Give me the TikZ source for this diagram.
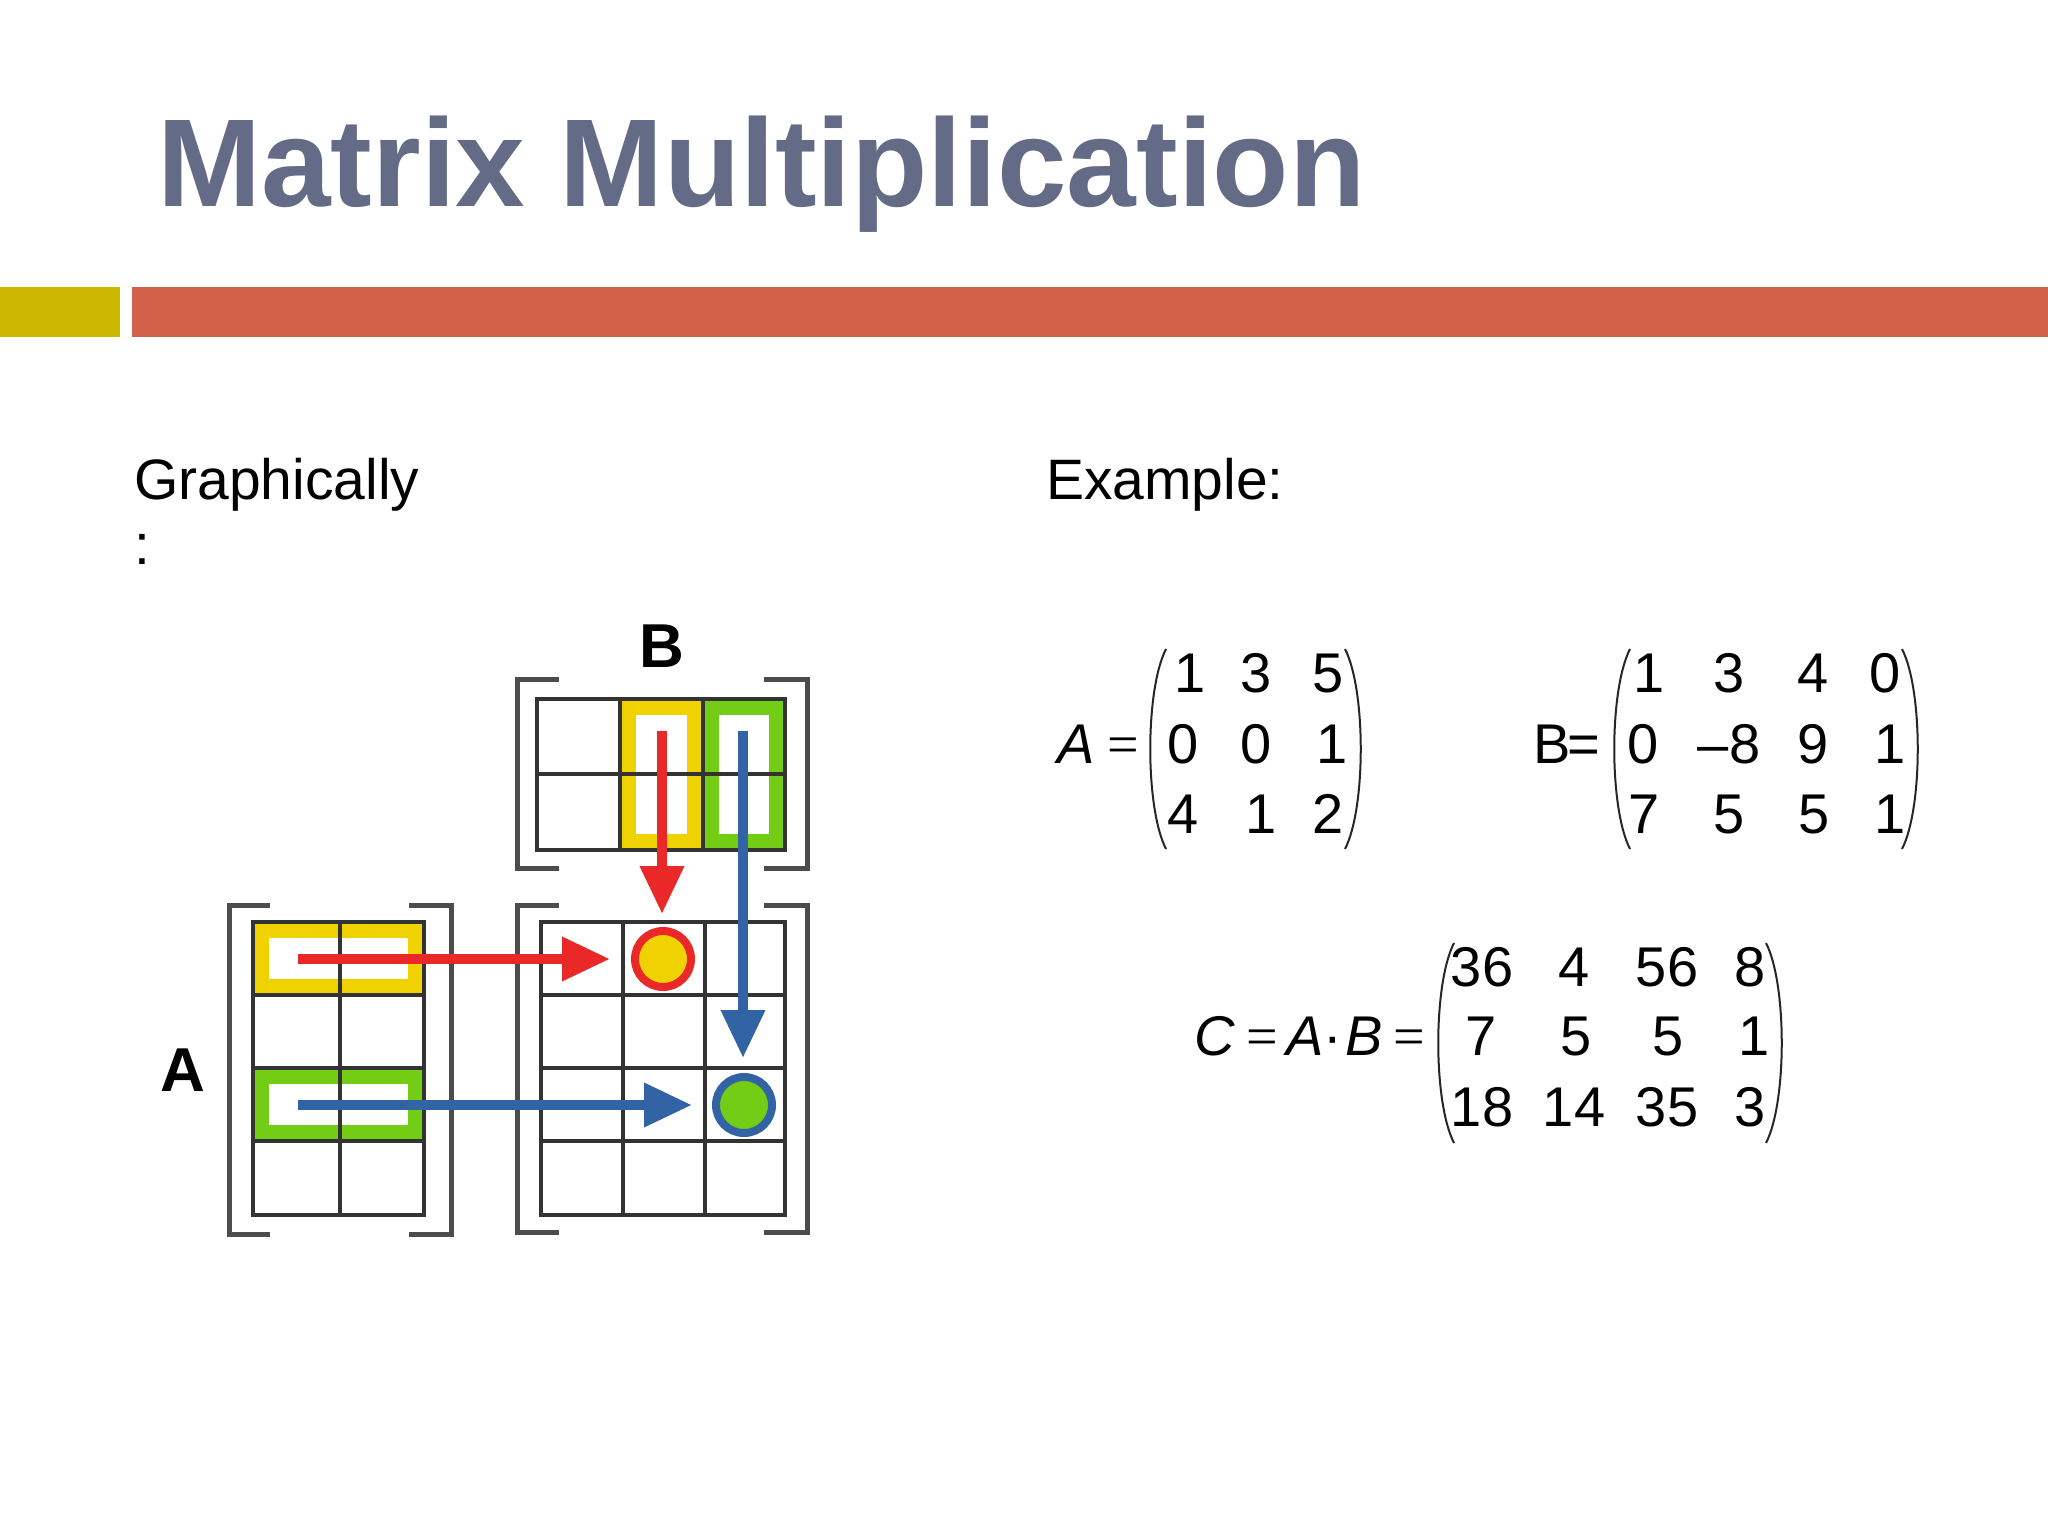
\documentclass[tikz,border=0pt]{standalone}
\usepackage{fontspec}
\setmainfont{Liberation Sans}
\newfontfamily\eqfont{Liberation Serif}
\usetikzlibrary{arrows.meta}
\definecolor{titlecol}{RGB}{99,107,135}
\definecolor{oliveblock}{RGB}{205,184,0}
\definecolor{barred}{RGB}{210,97,74}
\definecolor{hlyellow}{RGB}{240,210,0}
\definecolor{hlgreen}{RGB}{115,205,20}
\definecolor{arrred}{RGB}{235,40,40}
\definecolor{arrblue}{RGB}{50,100,165}
\tikzset{
  gridline/.style={line width=3.5pt, draw=black!80},
  bracketline/.style={line width=5pt, draw=black!70},
  hlyel/.style={draw=hlyellow, line width=16pt, fill=white},
  hlgrn/.style={draw=hlgreen, line width=16pt, fill=white},
  bigarrow/.style={line width=10pt, -{Triangle[width=42pt,length=48pt]}},
  entry/.style={anchor=base, inner sep=0pt, font=\fontsize{56}{67}\selectfont},
  eqsym/.style={anchor=base, inner sep=0pt, font=\eqfont\fontsize{56}{67}\selectfont},
  itsym/.style={anchor=base, inner sep=0pt, font=\itshape\fontsize{56}{67}\selectfont},
  parenline/.style={line width=2pt, draw=black!85},
  dotnode/.style={circle, line width=8pt, minimum size=56pt, inner sep=0pt},
  labeltext/.style={anchor=base west, inner sep=0pt, font=\fontsize{57}{66}\selectfont},
}
\begin{document}
\begin{tikzpicture}[x=1pt,y=-1pt]
\useasboundingbox (0,0) rectangle (2048,1536);
\fill[white] (0,0) rectangle (2048,1536);

% title and bars
\node[anchor=base west, inner sep=0pt, text=titlecol,
      font=\bfseries\fontsize{125}{150}\selectfont] (title) at (157,206) {Matrix Multiplication};
\fill[oliveblock] (0,287) rectangle (120,337);
\fill[barred] (132,287) rectangle (2048,337);

% section labels
\node[labeltext] (graph1) at (134,499) {Graphically};
\node[labeltext] (graph2) at (134,564) {:};
\node[labeltext] (example) at (1046,499) {Example:};

% ---------- graphic ----------
% highlights
\draw[hlyel] (620+8,699+8) rectangle (703-8,850-8);
\draw[hlgrn] (703+8,699+8) rectangle (785-8,850-8);
\draw[hlyel] (253+8,922+8) rectangle (424-8,995-8);
\draw[hlgrn] (253+8,1068+8) rectangle (424-8,1141-8);

% B grid (3 x 2)
\draw[gridline] (537,699) rectangle (785,850);
\draw[gridline] (620,699) -- (620,850) (703,699) -- (703,850) (537,774) -- (785,774);
% A grid (2 x 4)
\draw[gridline] (253,922) rectangle (424,1215);
\draw[gridline] (340,922) -- (340,1215) (253,995) -- (424,995) (253,1068) -- (424,1068) (253,1141) -- (424,1141);
% C grid (3 x 4)
\draw[gridline] (541,922) rectangle (785,1215);
\draw[gridline] (623,922) -- (623,1215) (705,922) -- (705,1215)
  (541,995) -- (785,995) (541,1068) -- (785,1068) (541,1141) -- (785,1141);

% brackets
\draw[bracketline] (559,679) -- (517,679) -- (517,868) -- (559,868);
\draw[bracketline] (764,679) -- (807,679) -- (807,868) -- (764,868);
\draw[bracketline] (270,905) -- (229,905) -- (229,1234) -- (270,1234);
\draw[bracketline] (409,905) -- (451,905) -- (451,1234) -- (409,1234);
\draw[bracketline] (559,905) -- (517,905) -- (517,1232) -- (559,1232);
\draw[bracketline] (764,905) -- (807,905) -- (807,1232) -- (764,1232);

% labels
\node[anchor=base, inner sep=0pt, font=\bfseries\fontsize{62}{70}\selectfont] (labB) at (662,667) {B};
\node[anchor=base, inner sep=0pt, font=\bfseries\fontsize{62}{70}\selectfont] (labA) at (183,1091) {A};

% result dots
\node[dotnode, draw=arrred, fill=hlyellow] (dotred) at (663,959) {};
\node[dotnode, draw=arrblue, fill=hlgreen] (dotblue) at (744,1105) {};

% arrow endpoints
\coordinate (rA) at (298,959);
\coordinate (rAend) at (610,959);
\coordinate (bA) at (298,1105);
\coordinate (bAend) at (692,1105);
\coordinate (rB) at (662,731);
\coordinate (rBend) at (662,914);
\coordinate (bB) at (743,731);
\coordinate (bBend) at (743,1058);

\draw[bigarrow, draw=arrred, fill=arrred] (rA) -- (rAend);
\draw[bigarrow, draw=arrblue, fill=arrblue] (bA) -- (bAend);
\draw[bigarrow, draw=arrred, fill=arrred] (rB) -- (rBend);
\draw[bigarrow, draw=arrblue, fill=arrblue] (bB) -- (bBend);

% ---------- example matrices ----------
% A
\node[itsym] (eqA1) at (1076,763) {A};
\node[eqsym] (eqA2) at (1123,763) {=};
\draw[parenline] (1166,649) .. controls (1145,690) and (1145,808) .. (1166,849);
\draw[parenline] (1345,649) .. controls (1366,690) and (1366,808) .. (1345,849);
\node[entry] (a11) at (1190,692) {1};
\node[entry] (a12) at (1256,692) {3};
\node[entry] (a13) at (1328,692) {5};
\node[entry] (a21) at (1183,763) {0};
\node[entry] (a22) at (1256,763) {0};
\node[entry] (a23) at (1332,763) {1};
\node[entry] (a31) at (1183,833) {4};
\node[entry] (a32) at (1261,833) {1};
\node[entry] (a33) at (1328,833) {2};

% B
\node[entry] (eqB1) at (1552,763) {B};
\node[entry] (eqB2) at (1584,763) {=};
\draw[parenline] (1630,649) .. controls (1609,690) and (1609,808) .. (1630,849);
\draw[parenline] (1902,649) .. controls (1923,690) and (1923,808) .. (1902,849);
\node[entry] (b11) at (1649,692) {1};
\node[entry] (b12) at (1729,692) {3};
\node[entry] (b13) at (1813,692) {4};
\node[entry] (b14) at (1885,692) {0};
\node[entry] (b21) at (1643,763) {0};
\node[entry] (b22) at (1729,763) {–8};
\node[entry] (b23) at (1813,763) {9};
\node[entry] (b24) at (1890,763) {1};
\node[entry] (b31) at (1644,833) {7};
\node[entry] (b32) at (1729,833) {5};
\node[entry] (b33) at (1814,833) {5};
\node[entry] (b34) at (1890,833) {1};

% C
\node[itsym] (eqC1) at (1215,1055) {C};
\node[eqsym] (eqC2) at (1262,1055) {=};
\node[itsym] (eqC3) at (1305,1055) {A};
\node[entry] (eqC4) at (1333,1055) {·};
\node[itsym] (eqC5) at (1364,1055) {B};
\node[eqsym] (eqC6) at (1409,1055) {=};
\draw[parenline] (1454,943) .. controls (1433,984) and (1433,1102) .. (1454,1143);
\draw[parenline] (1766,943) .. controls (1787,984) and (1787,1102) .. (1766,1143);
\node[entry] (c11) at (1482,986) {36};
\node[entry] (c12) at (1574,986) {4};
\node[entry] (c13) at (1667,986) {56};
\node[entry] (c14) at (1750,986) {8};
\node[entry] (c21) at (1481,1055) {7};
\node[entry] (c22) at (1576,1055) {5};
\node[entry] (c23) at (1668,1055) {5};
\node[entry] (c24) at (1754,1055) {1};
\node[entry] (c31) at (1482,1126) {18};
\node[entry] (c32) at (1574,1126) {14};
\node[entry] (c33) at (1667,1126) {35};
\node[entry] (c34) at (1750,1126) {3};
\end{tikzpicture}
\end{document}
